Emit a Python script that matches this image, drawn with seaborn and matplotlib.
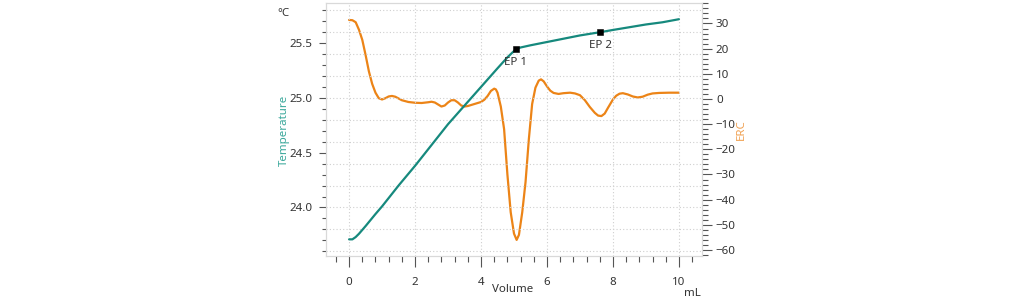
import numpy as np
import pandas as pd
import matplotlib
matplotlib.use("Agg")
import matplotlib.pyplot as plt
import seaborn as sns
from matplotlib.ticker import MultipleLocator

# ---------------- data ----------------
temp_volume = [0.0, 0.1, 0.2, 0.3, 0.5, 0.8, 1.0, 1.5, 2.0, 2.5, 3.0, 3.5, 4.0,
               4.5, 4.8, 5.06, 5.2, 5.5, 6.0, 6.5, 7.0, 7.62, 8.0, 8.5, 9.0, 9.5, 10.0]
temp_values = [23.709, 23.709, 23.73, 23.76, 23.83, 23.94, 24.01, 24.20, 24.38, 24.57,
               24.76, 24.93, 25.10, 25.27, 25.37, 25.445, 25.46, 25.48, 25.51, 25.54,
               25.57, 25.60, 25.62, 25.645, 25.67, 25.69, 25.718]

erc_volume = [0.0, 0.1, 0.2, 0.3, 0.4, 0.5, 0.6, 0.7, 0.8, 0.9, 1.0, 1.1, 1.2, 1.3,
              1.4, 1.5, 1.6, 1.8, 2.0, 2.2, 2.4, 2.5, 2.6, 2.7, 2.8, 2.9, 3.0, 3.1,
              3.2, 3.3, 3.4, 3.5, 3.6, 3.8, 4.0, 4.1, 4.2, 4.3, 4.4, 4.45, 4.5, 4.6,
              4.7, 4.8, 4.9, 5.0, 5.08, 5.15, 5.25, 5.35, 5.45, 5.55, 5.65, 5.75,
              5.82, 5.9, 6.0, 6.1, 6.2, 6.35, 6.5, 6.7, 6.85, 7.0, 7.15, 7.3, 7.45,
              7.55, 7.65, 7.75, 7.85, 8.0, 8.1, 8.2, 8.3, 8.45, 8.6, 8.75, 8.9, 9.05,
              9.2, 9.4, 9.7, 10.0]
erc_values = [31.4, 31.3, 30.5, 27.5, 23.5, 17.5, 11.0, 6.0, 2.5, 0.3, -0.2, 0.3, 1.0,
              1.2, 0.9, 0.2, -0.5, -1.2, -1.5, -1.6, -1.3, -1.1, -1.4, -2.2, -3.0,
              -2.6, -1.4, -0.5, -0.5, -1.4, -2.6, -3.0, -2.8, -2.0, -1.2, -0.3, 1.2,
              3.2, 4.1, 3.8, 2.5, -3.0, -12.0, -30.0, -45.0, -53.5, -56.0, -54.0,
              -45.0, -33.0, -16.0, -2.0, 4.5, 7.3, 7.8, 7.0, 5.0, 3.3, 2.4, 2.0, 2.3,
              2.5, 2.2, 1.5, -0.5, -3.2, -5.5, -6.6, -6.8, -5.8, -3.5, -0.2, 1.3,
              2.1, 2.3, 1.8, 1.0, 0.6, 0.9, 1.7, 2.2, 2.4, 2.5, 2.5]

ep_labels = ["EP 1", "EP 2"]
ep_volume = [5.06, 7.62]
ep_temp = [25.445, 25.60]

temp_grid_values = [23.6, 23.8, 24.0, 24.2, 24.4, 24.6, 24.8, 25.0, 25.2, 25.4, 25.6, 25.8]

temp_df = pd.DataFrame({"Volume": temp_volume, "Temperature": temp_values})
erc_df = pd.DataFrame({"Volume": erc_volume, "ERC": erc_values})
ep_df = pd.DataFrame({"Volume": ep_volume, "Temperature": ep_temp, "label": ep_labels})

# ---------------- style ----------------
sns.set_style("white")
plt.rcParams["font.family"] = ["Noto Sans", "DejaVu Sans"]

TEAL = "#16897d"
TEAL_LABEL = "#3aa89b"
ORANGE = "#ec8417"
ORANGE_LABEL = "#f0a050"
TXT = "#333333"
FRAME = "#d9d9d9"
GRID = "#cfcfcf"
FS = 8.3

fig = plt.figure(figsize=(10.24, 3.06), dpi=100)
ax = fig.add_axes([326 / 1024, 1 - 256 / 306, (702 - 326) / 1024, (256 - 3) / 306])
ax2 = ax.twinx()

# gridlines
for g in temp_grid_values:
    ax.axhline(g, color=GRID, lw=0.8, ls=(0, (1, 2)), zorder=0)
for v in [0, 2, 4, 6, 8, 10]:
    ax.axvline(v, color=GRID, lw=0.8, ls=(0, (1, 2)), zorder=0)

sns.lineplot(data=erc_df, x="Volume", y="ERC", ax=ax2, color=ORANGE, lw=1.6,
             sort=False, estimator=None)
sns.lineplot(data=temp_df, x="Volume", y="Temperature", ax=ax, color=TEAL, lw=1.6,
             sort=False, estimator=None, zorder=3)
sns.scatterplot(data=ep_df, x="Volume", y="Temperature", ax=ax, color="black",
                marker="s", s=24, edgecolor="black", zorder=4)
for _, r in ep_df.iterrows():
    ax.annotate(r["label"], (r["Volume"], r["Temperature"]), xytext=(0, -6),
                textcoords="offset points", ha="center", va="top",
                fontsize=FS, color=TXT, zorder=5)

ax.set_zorder(ax2.get_zorder() + 1)
ax.patch.set_visible(False)

# limits
ax.set_xlim(-0.70, 10.70)
ax.set_ylim(23.557, 25.866)
ax2.set_ylim(-62.4, 38.14)

# ticks
ax.xaxis.set_major_locator(MultipleLocator(2))
ax.xaxis.set_minor_locator(MultipleLocator(0.4))
ax.yaxis.set_major_locator(MultipleLocator(0.5))
ax.yaxis.set_minor_locator(MultipleLocator(0.1))
ax2.yaxis.set_major_locator(MultipleLocator(10))
ax2.yaxis.set_minor_locator(MultipleLocator(2))
ax.yaxis.set_major_formatter(matplotlib.ticker.FormatStrFormatter("%.1f"))

ax.tick_params(axis="x", which="major", length=8, width=0.8, color="#555555",
               labelsize=FS, labelcolor=TXT, pad=7, direction="out", bottom=True)
ax.tick_params(axis="x", which="minor", length=4, width=0.8, color="#555555",
               direction="out", bottom=True)
ax.tick_params(axis="y", which="major", length=5, width=0.8, color="#555555",
               labelsize=FS, labelcolor=TXT, pad=5, direction="out", left=True)
ax.tick_params(axis="y", which="minor", length=3, width=0.8, color="#555555",
               direction="out", left=True)
ax2.tick_params(axis="y", which="major", length=7, width=0.8, color="#555555",
                labelsize=FS, labelcolor=TXT, pad=3, direction="out", right=True)
ax2.tick_params(axis="y", which="minor", length=4, width=0.8, color="#555555",
                direction="out", right=True)

for a in (ax, ax2):
    for s in a.spines.values():
        s.set_color(FRAME)
        s.set_linewidth(0.8)

ax.set_xlabel("")
ax.set_ylabel("")
ax2.set_ylabel("")

# axis texts
fig.text(513 / 1024, 1 - 290 / 306, "Volume", ha="center", va="center",
         fontsize=FS, color=TXT)
fig.text(692 / 1024, 1 - 294 / 306, "mL", ha="center", va="center",
         fontsize=FS, color=TXT)
fig.text(283 / 1024, 1 - 13 / 306, "°C", ha="center", va="center",
         fontsize=FS, color=TXT)
fig.text(284 / 1024, 1 - 130 / 306, "Temperature", ha="center", va="center",
         rotation=90, fontsize=FS, color=TEAL_LABEL)
fig.text(741 / 1024, 1 - 130 / 306, "ERC", ha="center", va="center",
         rotation=90, fontsize=FS, color=ORANGE_LABEL)

fig.savefig("out.png", dpi=100, facecolor="white")
